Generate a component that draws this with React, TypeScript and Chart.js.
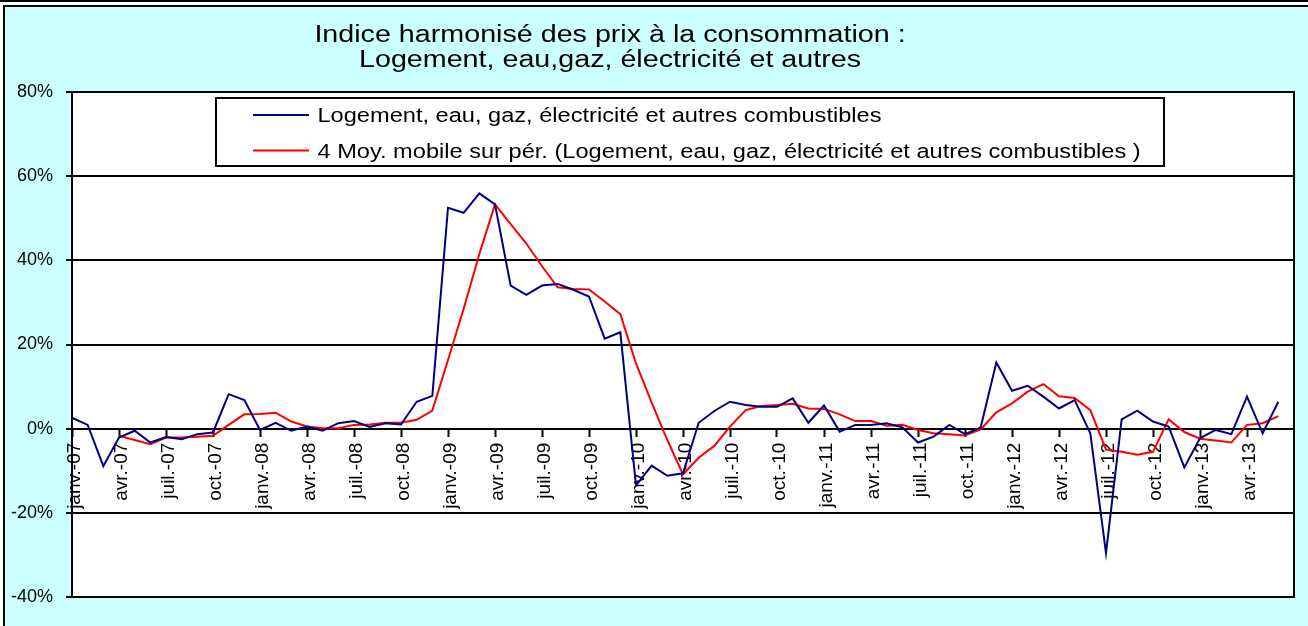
import React, { useEffect, useRef } from 'react';
import { Chart, registerables } from 'chart.js';

Chart.register(...registerables);

// ---------- data ----------
const MONTHS = ['janv.', 'févr.', 'mars', 'avr.', 'mai', 'juin', 'juil.', 'août', 'sept.', 'oct.', 'nov.', 'déc.'];
const YEARS = ['07', '08', '09', '10', '11', '12', '13'];
// Jan 2007 .. Jul 2013 (last category has no data)
const CATEGORIES: string[] = YEARS.flatMap((y) => MONTHS.map((m) => `${m}-${y}`)).slice(0, 79);

const TITLE_LINES = [
  'Indice harmonisé des prix à la consommation :',
  'Logement, eau,gaz, électricité et autres',
];

const SERIES_LABEL = 'Logement, eau, gaz, électricité et autres combustibles';
const MA_LABEL = '4 Moy. mobile sur pér. (Logement, eau, gaz, électricité et autres combustibles )';

// monthly values, in %
const SERIES_VALUES: (number | null)[] = [
  2.6, 0.9, -8.9, -2.1, -0.5, -3.3, -2.0, -2.5, -1.3, -0.9,
  8.2, 6.8, -0.3, 1.4, -0.5, 0.5, -0.5, 1.3, 1.8, 0.4,
  1.3, 1.0, 6.4, 7.8, 52.5, 51.3, 55.9, 53.3, 34.0, 31.8,
  34.0, 34.4, 33.0, 31.4, 21.4, 22.9, -13.5, -8.8, -11.2, -10.6,
  1.4, 4.2, 6.4, 5.6, 5.2, 5.2, 7.2, 1.4, 5.5, -0.7,
  0.9, 0.9, 1.3, 0.3, -3.3, -1.9, 0.9, -1.3, 0.3, 15.7,
  9.0, 10.2, 7.6, 4.8, 6.8, -1.1, -29.6, 2.2, 4.3, 1.7,
  0.5, -9.2, -2.3, -0.3, -1.3, 7.6, -1.1, 6.4, null,
];

const MA_VALUES: (number | null)[] = [
  null, null, null, -1.7, -2.7, -3.7, -2.1, -2.1, -1.9, -1.7,
  0.9, 3.4, 3.5, 3.8, 1.7, 0.5, 0.1, 0.1, 0.9, 1.0,
  1.4, 1.4, 2.1, 4.3, 16.3, 28.5, 41.5, 53.3, 48.6, 44.0,
  38.6, 33.6, 33.2, 33.1, 30.2, 27.2, 15.5, 6.2, -2.7, -10.9,
  -6.9, -4.1, 0.5, 4.4, 5.4, 5.6, 5.9, 4.8, 4.7, 3.4,
  1.8, 1.8, 0.7, 0.9, -0.3, -1.1, -1.3, -1.6, -0.2, 3.9,
  6.0, 8.8, 10.6, 7.7, 7.3, 4.4, -5.0, -5.5, -6.2, -5.5,
  2.2, -0.8, -2.4, -2.8, -3.3, 0.9, 1.3, 3.0, null,
];

const Y_MIN = -40;
const Y_MAX = 80;
const Y_STEP = 20;

const FONT = "'Liberation Sans', Arial, Helvetica, sans-serif";

const isLabelled = (idx: number) => idx % 3 === 0 && idx < CATEGORIES.length - 1;

const decorPlugin = {
  id: 'decor',
  beforeDraw(chart: any) {
    const { ctx, chartArea: a } = chart;
    ctx.save();
    ctx.fillStyle = '#ffffff';
    ctx.fillRect(a.left, a.top, a.right - a.left, a.bottom - a.top);
    ctx.restore();
  },
  afterDraw(chart: any) {
    const { ctx, chartArea: a } = chart;
    ctx.save();
    // plot frame
    ctx.strokeStyle = '#000';
    ctx.lineWidth = 2;
    ctx.strokeRect(a.left, a.top, a.right - a.left, a.bottom - a.top);

    // legend box
    const lx = 216;
    const ly = 98;
    const lw = 948;
    const lh = 68;
    ctx.fillStyle = '#fff';
    ctx.fillRect(lx, ly, lw, lh);
    ctx.strokeStyle = '#000';
    ctx.lineWidth = 2;
    ctx.strokeRect(lx, ly, lw, lh);
    chart.data.datasets.forEach((ds: any, i: number) => {
      const yMid = 115 + i * 35.5;
      ctx.strokeStyle = ds.borderColor;
      ctx.lineWidth = 2;
      ctx.beginPath();
      ctx.moveTo(253, yMid);
      ctx.lineTo(309, yMid);
      ctx.stroke();
      ctx.save();
      ctx.translate(317.5, 122 + i * 35.5);
      ctx.scale(1.21, 1);
      ctx.font = `19.5px ${FONT}`;
      ctx.fillStyle = '#000';
      ctx.textAlign = 'left';
      ctx.textBaseline = 'alphabetic';
      ctx.fillText(ds.label, 0, 0);
      ctx.restore();
    });

    // title
    TITLE_LINES.forEach((line, i) => {
      ctx.save();
      ctx.translate(610, 41.7 + i * 25);
      ctx.scale(1.22, 1);
      ctx.font = `23.5px ${FONT}`;
      ctx.fillStyle = '#000';
      ctx.textAlign = 'center';
      ctx.textBaseline = 'alphabetic';
      ctx.fillText(line, 0, 0);
      ctx.restore();
    });
    ctx.restore();
  },
};

export default function App() {
  const canvasRef = useRef<HTMLCanvasElement>(null);

  useEffect(() => {
    const canvas = canvasRef.current;
    if (!canvas) return;
    Chart.defaults.font.family = FONT;
    Chart.defaults.color = '#000';
    const chart = new Chart(canvas, {
      type: 'line',
      data: {
        labels: CATEGORIES,
        datasets: [
          {
            label: SERIES_LABEL,
            data: SERIES_VALUES,
            borderColor: '#000080',
            backgroundColor: '#000080',
            borderWidth: 2,
            pointRadius: 0,
            tension: 0,
            fill: false,
          },
          {
            label: MA_LABEL,
            data: MA_VALUES,
            borderColor: '#ff0000',
            backgroundColor: '#ff0000',
            borderWidth: 2,
            pointRadius: 0,
            tension: 0,
            fill: false,
          },
        ],
      },
      options: {
        responsive: false,
        maintainAspectRatio: false,
        animation: false,
        events: [],
        layout: { padding: { left: 0, right: 14, top: 92, bottom: 29 } },
        plugins: {
          legend: { display: false },
          title: { display: false },
          tooltip: { enabled: false },
        },
        scales: {
          x: {
            type: 'category',
            position: { y: 0 } as any,
            offset: false,
            grid: {
              display: true,
              drawOnChartArea: false,
              drawTicks: true,
              tickLength: 7,
              tickWidth: 2,
              color: (c: any) => (isLabelled(c.index) ? '#000' : 'rgba(0,0,0,0)'),
              tickColor: (c: any) => (isLabelled(c.index) ? '#000' : 'rgba(0,0,0,0)'),
            },
            border: { display: true, color: '#000', width: 2 },
            ticks: {
              autoSkip: false,
              minRotation: 90,
              maxRotation: 90,
              padding: 7,
              labelOffset: 3,
              font: { size: 19, family: FONT },
              color: '#000',
              callback: (_v: any, idx: number) => (isLabelled(idx) ? CATEGORIES[idx] : ''),
            },
            afterFit: (s: any) => {
              s.paddingLeft = 0;
              s.paddingRight = 0;
            },
          },
          y: {
            min: Y_MIN,
            max: Y_MAX,
            position: 'left',
            grid: {
              color: '#000',
              lineWidth: 2,
              drawTicks: true,
              tickLength: 6,
              tickColor: '#000',
            },
            border: { display: true, color: '#000', width: 2 },
            ticks: {
              stepSize: Y_STEP,
              padding: 13,
              font: { size: 18, family: FONT },
              color: '#000',
              callback: (v: any) => `${v}%`,
            },
            afterFit: (s: any) => {
              s.width = 72;
            },
          },
        },
      },
      plugins: [decorPlugin],
    });
    return () => chart.destroy();
  }, []);

  return (
    <div style={{ position: 'absolute', left: 0, top: 0, width: 1308, height: 626, overflow: 'hidden', background: '#ffffff' }}>
      <div style={{ position: 'absolute', left: 0, top: 0, width: 1308, height: 2, background: '#000' }} />
      <div
        style={{
          position: 'absolute',
          left: 3,
          top: 5,
          width: 1400,
          height: 700,
          borderLeft: '2px solid #000',
          borderTop: '2px solid #000',
          background: '#CCFFFF',
        }}
      />
      <canvas
        ref={canvasRef}
        width={1308}
        height={626}
        style={{ position: 'absolute', left: 0, top: 0, width: 1308, height: 626 }}
      />
    </div>
  );
}
